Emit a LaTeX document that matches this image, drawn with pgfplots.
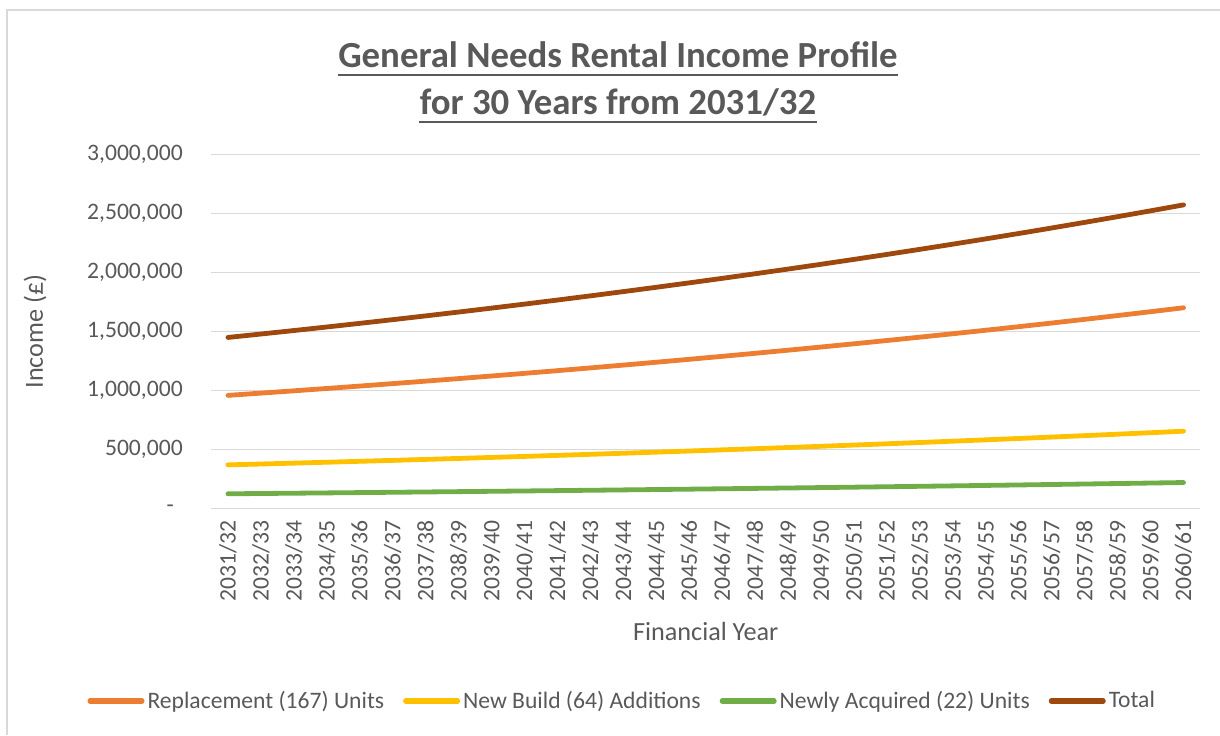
\documentclass[border=0pt]{standalone}
\usepackage{fontspec}
\setmainfont{Carlito}
\usepackage{pgfplots}
\usepackage{pgfplotstable}
\pgfplotsset{compat=1.18}
\definecolor{txt}{HTML}{595959}
\definecolor{gridc}{HTML}{D9D9D9}
\definecolor{repc}{HTML}{ED7D31}
\definecolor{nbc}{HTML}{FFC000}
\definecolor{nac}{HTML}{70AD47}
\definecolor{totc}{HTML}{9E480E}
\pgfplotstableread{
x rep nb na tot
0 957000 368000 123000 1448000
1 976140 375360 125460 1476960
2 995663 382867 127969 1506499
3 1015576 390525 130529 1536629
4 1035887 398335 133139 1567362
5 1056605 406302 135802 1598709
6 1077737 414428 138518 1630683
7 1099292 422716 141288 1663297
8 1121278 431171 144114 1696562
9 1143704 439794 146996 1730495
10 1166578 448590 149936 1765103
11 1189909 457562 152935 1800406
12 1213708 466713 155994 1836414
13 1237982 476047 159114 1873143
14 1262741 485568 162296 1910606
15 1287996 495279 165542 1948817
16 1313756 505185 168853 1987794
17 1340031 515289 172230 2027549
18 1366831 525595 175674 2068100
19 1394168 536106 179188 2109462
20 1422051 546828 182771 2151651
21 1450492 557765 186427 2194684
22 1479503 568921 190156 2238579
23 1509092 580299 193959 2283350
24 1539274 591905 197838 2329017
25 1570060 603743 201795 2375597
26 1601461 615818 205830 2423109
27 1633490 628134 209947 2471571
28 1666160 640697 214146 2521003
29 1699484 653511 218429 2571424
}\datatable
\begin{document}
\begin{tikzpicture}
\path[use as bounding box] (-105.75pt,-113.35pt) rectangle (504.25pt,254.15pt);
\draw[gridc, line width=1pt] (-102.1pt,-113.35pt) -- (-102.1pt,249.15pt) -- (504.25pt,249.15pt);
\begin{axis}[
  scale only axis,
  width=494.25pt, height=177pt,
  xmin=-0.5, xmax=29.5,
  ymin=0, ymax=3000000,
  scaled y ticks=false,
  axis line style={draw=none},
  major tick length=0pt,
  ymajorgrids, grid style={gridc, line width=0.7pt},
  xtick={0,...,29},
  xticklabels={2031/32,2032/33,2033/34,2034/35,2035/36,2036/37,2037/38,2038/39,2039/40,2040/41,2041/42,2042/43,2043/44,2044/45,2045/46,2046/47,2047/48,2048/49,2049/50,2050/51,2051/52,2052/53,2053/54,2054/55,2055/56,2056/57,2057/58,2058/59,2059/60,2060/61},
  ytick={0,500000,1000000,1500000,2000000,2500000,3000000},
  yticklabels={{\makebox[8pt][l]{-}},{500,000},{1,000,000},{1,500,000},{2,000,000},{2,500,000},{3,000,000}},
  tick label style={font=\fontsize{11.8pt}{14pt}\selectfont, text=txt, inner sep=0pt},
  xticklabel style={rotate=90, anchor=east, xshift=-5.8pt},
  yticklabel style={anchor=east, xshift=-14.2pt},
  xlabel={Financial Year},
  ylabel={Income (£)},
  every axis x label/.style={at={([yshift=-61.4pt]axis description cs:0.5,0)}, anchor=center, font=\fontsize{13.1pt}{15pt}\selectfont, text=txt},
  every axis y label/.style={at={([xshift=-88.25pt]axis description cs:0,0.5)}, rotate=90, anchor=center, font=\fontsize{13.1pt}{15pt}\selectfont, text=txt},
  legend columns=4,
  legend style={at={([yshift=-96.35pt]axis description cs:0.4145,0)}, anchor=center, draw=none, fill=none,
    font=\fontsize{11.8pt}{14pt}\selectfont, text=txt, inner sep=0pt,
    nodes={inner sep=0pt},
    /tikz/every odd column/.append style={column sep=1.5pt},
    /tikz/every even column/.append style={column sep=9.5pt}},
  legend image code/.code={\draw[#1, line width=2.6pt, line cap=round] (0.8pt,0pt) -- (26.7pt,0pt);},
  every axis plot/.append style={line width=2.4pt, line cap=round, line join=round},
]
\addplot[repc, mark=none] table[x=x, y=rep] {\datatable};
\addlegendentry{Replacement (167) Units}
\addplot[nbc, mark=none] table[x=x, y=nb] {\datatable};
\addlegendentry{New Build (64) Additions}
\addplot[nac, mark=none] table[x=x, y=na] {\datatable};
\addlegendentry{Newly Acquired (22) Units}
\addplot[totc, mark=none] table[x=x, y=tot] {\datatable};
\addlegendentry{Total}
\end{axis}
\node[anchor=base, font=\fontsize{18.4pt}{22pt}\selectfont\bfseries, text=txt, inner sep=0pt] (t1) at (203.25pt,220.65pt) {General Needs Rental Income Profile};
\draw[txt, line width=1pt] ([yshift=-4pt]t1.base west) -- ([yshift=-4pt]t1.base east);
\node[anchor=base, font=\fontsize{18.4pt}{22pt}\selectfont\bfseries, text=txt, inner sep=0pt] (t2) at (203.25pt,197.15pt) {for 30 Years from 2031/32};
\draw[txt, line width=1pt] ([yshift=-4pt]t2.base west) -- ([yshift=-4pt]t2.base east);
\end{tikzpicture}
\end{document}
